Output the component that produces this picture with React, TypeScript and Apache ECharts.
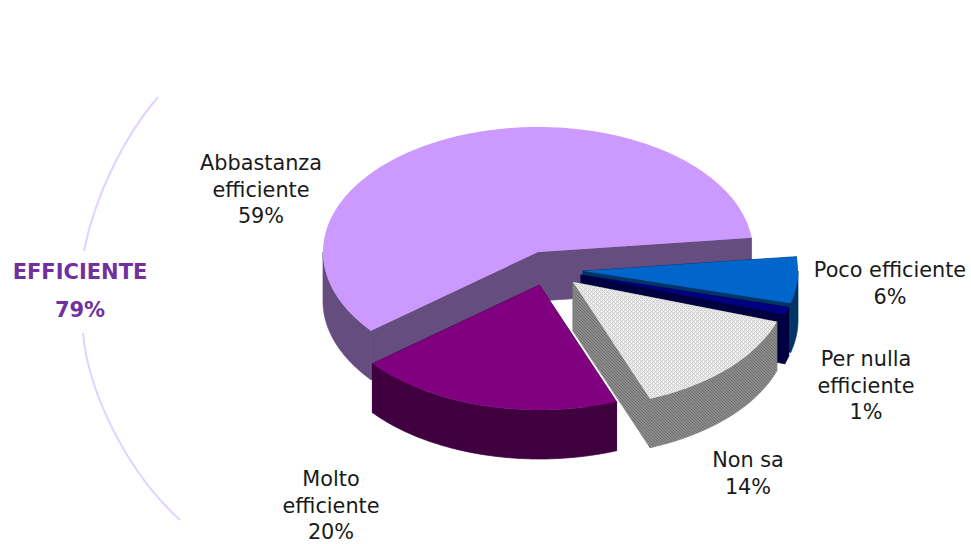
import React, { useEffect, useRef } from "react";
import * as echarts from "echarts";

// Slices in clockwise order from the chart's start angle
const categories = ["Poco efficiente", "Per nulla efficiente", "Non sa", "Molto efficiente", "Abbastanza efficiente"];
const values = [6, 1, 14, 20, 59];
const labelTexts = ["Poco efficiente\n6%", "Per nulla\nefficiente\n1%", "Non sa\n14%", "Molto\nefficiente\n20%", "Abbastanza\nefficiente\n59%"];
const groupLabel = "EFFICIENTE";
const groupValue = "79%";

// Layout and style
const CX = 538, CY = 252, RX = 215, RY = 125, DEPTH = 49;
const START_DEG = 6.6;
const explode = [[45, 19], [43, 23], [35, 30], [1.5, 33], [0, 0]];
const labelPos = [[890, 257], [866, 346], [748, 447], [331, 466], [261, 150]];
const topColors: any[] = ["#0066cc", "#000080", "#e4e4e4", "#800080", "#cc99ff"];
const wallColors: any[] = ["#003366", "#000040", "#808080", "#400040", "#664d80"];
const drawOrder = [4, 0, 1, 3, 2];
const FONT = '"DejaVu Sans", Verdana, sans-serif';

function makePattern(size: number, bg: string, fg: string, cells: number[][]) {
  const c = document.createElement("canvas");
  c.width = size;
  c.height = size;
  const g = c.getContext("2d")!;
  g.fillStyle = bg;
  g.fillRect(0, 0, size, size);
  g.fillStyle = fg;
  cells.forEach(([x, y]) => g.fillRect(x, y, 1, 1));
  return { image: c, repeat: "repeat" };
}

export default function App() {
  const ref = useRef<HTMLDivElement>(null);
  useEffect(() => {
    document.body.style.margin = "0";
    const chart = echarts.init(ref.current!, undefined, { renderer: "svg" });

    const total = values.reduce((a, b) => a + b, 0);
    let acc = 0;
    const spans = values.map((v) => {
      const a0 = START_DEG - (acc / total) * 360;
      acc += v;
      const a1 = START_DEG - (acc / total) * 360;
      return [a1, a0];
    });

    const fills = topColors.slice();
    const walls = wallColors.slice();
    fills[2] = makePattern(4, "#ececec", "#cfcfcf", [[0, 0], [1, 1], [2, 2], [3, 3], [2, 0], [0, 2]]);
    walls[2] = makePattern(3, "#8c8c8c", "#6e6e6e", [[0, 0], [1, 1], [2, 2]]);

    const renderItem = (params: any, api: any) => {
      const i = drawOrder[params.dataIndex];
      const ox = CX + explode[i][0];
      const oy = CY + explode[i][1];
      const [lo, hi] = spans[i];
      const pt = (deg: number, dz = 0) => {
        const r = (deg * Math.PI) / 180;
        return [ox + RX * Math.cos(r), oy - RY * Math.sin(r) + dz];
      };
      const arc = (a: number, b: number, dz = 0) => {
        const out: number[][] = [];
        const n = Math.max(2, Math.ceil(Math.abs(b - a)));
        for (let k = 0; k <= n; k++) out.push(pt(a + ((b - a) * k) / n, dz));
        return out;
      };
      const children: any[] = [];
      const poly = (points: number[][], fill: any, stroke: string | null) =>
        children.push({
          type: "polygon",
          shape: { points },
          style: { fill, stroke, lineWidth: stroke ? 0.7 : 0 },
        });

      // radial walls
      poly([[ox, oy], pt(hi), pt(hi, DEPTH), [ox, oy + DEPTH]], walls[i], wallColors[i]);
      poly([[ox, oy], pt(lo), pt(lo, DEPTH), [ox, oy + DEPTH]], walls[i], wallColors[i]);
      // outer wall: front half of the ellipse only (-180..0 degrees, wrapped)
      const ranges = [[-180, 0], [-540, -360]];
      ranges.forEach(([fa, fb]) => {
        const a = Math.max(lo, fa);
        const b = Math.min(hi, fb);
        if (b > a) poly([...arc(a, b), ...arc(b, a, DEPTH)], walls[i], wallColors[i]);
      });
      // top face
      poly([[ox, oy], ...arc(lo, hi)], fills[i], null);
      return { type: "group", children };
    };

    const labelItem = (params: any) => {
      const i = params.dataIndex;
      return {
        type: "text",
        x: labelPos[i][0],
        y: labelPos[i][1],
        style: {
          text: labelTexts[i],
          font: `20.8px ${FONT}`,
          lineHeight: 26.5,
          fill: "#1a1a1a",
          align: "center",
          verticalAlign: "top",
        },
      };
    };

    chart.setOption({
      animation: false,
      backgroundColor: "#ffffff",
      series: [
        {
          type: "custom",
          name: "pie",
          coordinateSystem: "none",
          silent: true,
          clip: false,
          renderItem,
          data: drawOrder.map((i) => ({ name: categories[i], value: [values[i]] })),
        },
        {
          type: "custom",
          name: "labels",
          coordinateSystem: "none",
          silent: true,
          clip: false,
          z: 5,
          renderItem: labelItem,
          data: categories.map((c, i) => ({ name: c, value: [values[i]] })),
        },
      ],
      graphic: [
        {
          type: "bezierCurve",
          shape: { x1: 158, y1: 97, cpx1: 125, cpy1: 135, cpx2: 95, cpy2: 195, x2: 84, y2: 251 },
          style: { stroke: "#e3d1ff", lineWidth: 2, fill: "none" },
        },
        {
          type: "bezierCurve",
          shape: { x1: 83, y1: 333, cpx1: 88, cpy1: 390, cpx2: 125, cpy2: 470, x2: 180, y2: 520 },
          style: { stroke: "#e3d1ff", lineWidth: 2, fill: "none" },
        },
        {
          type: "text",
          x: 80,
          y: 272,
          style: { text: groupLabel, font: `bold 21px ${FONT}`, fill: "#7030a0", align: "center", verticalAlign: "middle" },
        },
        {
          type: "text",
          x: 80,
          y: 310,
          style: { text: groupValue, font: `bold 21px ${FONT}`, fill: "#7030a0", align: "center", verticalAlign: "middle" },
        },
      ],
    });
    return () => chart.dispose();
  }, []);
  return <div ref={ref} style={{ position: "absolute", left: 0, top: 0, width: 971, height: 544 }} />;
}
